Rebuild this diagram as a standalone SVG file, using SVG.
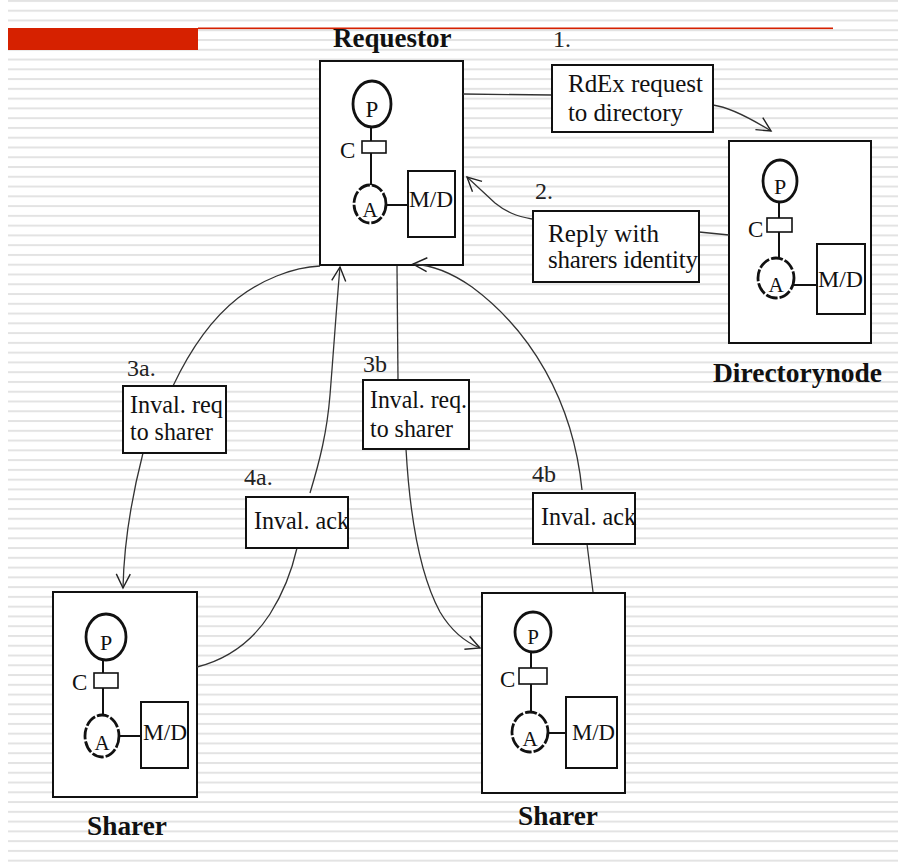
<svg xmlns="http://www.w3.org/2000/svg" width="898" height="862" viewBox="0 0 898 862">
<defs>
<pattern id="bg" x="0" y="9.7" width="898" height="9.77" patternUnits="userSpaceOnUse">
<rect x="0" y="0" width="898" height="2" fill="#e3e3e3"/>
</pattern>
<marker id="arr" markerUnits="userSpaceOnUse" markerWidth="20" markerHeight="20" viewBox="-16 -10 20 20" refX="0" refY="0" orient="auto">
<path d="M-14,-7 L0,0 L-14,7" fill="none" stroke="#222" stroke-width="1.4"/>
</marker>
<style>
.box{fill:#fff;stroke:#111;stroke-width:2}
.lbl{fill:#fff;stroke:#111;stroke-width:2}
.circ{fill:#fff;stroke:#111;stroke-width:2.8}
.acirc{fill:#fff;stroke:#111;stroke-width:2.8;stroke-dasharray:12 2}
.ln{stroke:#111;stroke-width:2;fill:none}
.cr{fill:#fff;stroke:#111;stroke-width:1.6}
.t{font-family:"Liberation Serif","Times New Roman",serif;fill:#111}
.title{font-family:"Liberation Serif","Times New Roman",serif;font-weight:bold;font-size:27px;fill:#111}
.lt{font-family:"Liberation Serif","Times New Roman",serif;font-size:25px;fill:#111}
.num{font-family:"Liberation Serif","Times New Roman",serif;font-size:24px;fill:#222}
.conn{fill:none;stroke:#333;stroke-width:1.3}
</style>
</defs>
<rect x="0" y="0" width="898" height="862" fill="#fff"/>
<rect x="8" y="0" width="890" height="862" fill="url(#bg)"/>
<rect x="8" y="28" width="190" height="22" fill="#d62100"/>
<rect x="198" y="27.5" width="635" height="1.6" fill="#d62100"/>

<g id="requestor">
<text class="title" x="333" y="47" font-family="Liberation Serif, serif">Requestor</text>
<rect class="box" x="320" y="61" width="143" height="204"/>
<line class="ln" x1="371" y1="126" x2="371" y2="141"/>
<line class="ln" x1="371" y1="153" x2="371" y2="186"/>
<line class="ln" x1="386" y1="205" x2="408" y2="205"/>
<ellipse class="circ" cx="372" cy="104" rx="19" ry="23"/>
<text class="t" x="372" y="117" font-size="23" text-anchor="middle">P</text>
<rect class="cr" x="362" y="141" width="24" height="12"/>
<text class="t" x="340" y="158" font-size="23">C</text>
<ellipse class="acirc" cx="370" cy="204" rx="16" ry="19"/>
<text class="t" x="370" y="217" font-size="21" text-anchor="middle">A</text>
<rect class="box" x="408" y="171" width="47" height="66"/>
<text class="t" x="409" y="207" font-size="23" textLength="44" lengthAdjust="spacingAndGlyphs">M/D</text>
</g>

<g id="directory">
<rect class="box" x="729" y="141" width="142" height="202"/>
<line class="ln" x1="779" y1="201" x2="779" y2="218"/>
<line class="ln" x1="779" y1="232" x2="779" y2="259"/>
<line class="ln" x1="794" y1="285" x2="817" y2="285"/>
<ellipse class="circ" cx="780" cy="181" rx="17" ry="21"/>
<text class="t" x="780" y="194" font-size="22" text-anchor="middle">P</text>
<rect class="cr" x="767" y="218" width="25" height="14"/>
<text class="t" x="748" y="237" font-size="23">C</text>
<ellipse class="acirc" cx="776" cy="278" rx="18" ry="20"/>
<text class="t" x="776" y="292" font-size="21" text-anchor="middle">A</text>
<rect class="box" x="817" y="244" width="48" height="70"/>
<text class="t" x="818" y="287" font-size="23" textLength="45" lengthAdjust="spacingAndGlyphs">M/D</text>
<text class="title" x="713" y="382" textLength="169" lengthAdjust="spacingAndGlyphs">Directorynode</text>
</g>

<g id="sharer1">
<rect class="box" x="53" y="592" width="144" height="205"/>
<line class="ln" x1="103" y1="659" x2="103" y2="673"/>
<line class="ln" x1="103" y1="688" x2="103" y2="716"/>
<line class="ln" x1="118" y1="736" x2="141" y2="736"/>
<ellipse class="circ" cx="106" cy="637" rx="20" ry="23"/>
<text class="t" x="106" y="650" font-size="22" text-anchor="middle">P</text>
<rect class="cr" x="94" y="673" width="24" height="15"/>
<text class="t" x="72" y="690" font-size="23">C</text>
<ellipse class="acirc" cx="102" cy="736" rx="17" ry="21"/>
<text class="t" x="102" y="750" font-size="21" text-anchor="middle">A</text>
<rect class="box" x="141" y="702" width="47" height="66"/>
<text class="t" x="143" y="740" font-size="23" textLength="44" lengthAdjust="spacingAndGlyphs">M/D</text>
<text class="title" x="87" y="835" textLength="80" lengthAdjust="spacingAndGlyphs">Sharer</text>
</g>

<g id="sharer2">
<rect class="box" x="482" y="593" width="143" height="200"/>
<line class="ln" x1="531" y1="652" x2="531" y2="668"/>
<line class="ln" x1="531" y1="684" x2="531" y2="713"/>
<line class="ln" x1="547" y1="733" x2="566" y2="733"/>
<ellipse class="circ" cx="533" cy="632" rx="18" ry="20"/>
<text class="t" x="533" y="644" font-size="21" text-anchor="middle">P</text>
<rect class="cr" x="519" y="668" width="28" height="16"/>
<text class="t" x="500" y="687" font-size="23">C</text>
<ellipse class="acirc" cx="530" cy="732" rx="18" ry="20"/>
<text class="t" x="530" y="746" font-size="21" text-anchor="middle">A</text>
<rect class="box" x="566" y="697" width="51" height="71"/>
<text class="t" x="572" y="740" font-size="23" textLength="43" lengthAdjust="spacingAndGlyphs">M/D</text>
<text class="title" x="518" y="825" textLength="80" lengthAdjust="spacingAndGlyphs">Sharer</text>
</g>

<g id="connectors">
<path class="conn" d="M463,94 L552,95"/>
<path class="conn" d="M713,105 C728,107 750,118 771,131" marker-end="url(#arr)"/>
<path class="conn" d="M699,232 L729,235"/>
<path class="conn" d="M532,219 C516,216 506,212 495,203 L467,177" marker-end="url(#arr)"/>
<path class="conn" d="M320,266 C292,267 260,281 238,298 C210,320 190,350 173,386"/>
<path class="conn" d="M143,453 C133,492 124,540 123,588" marker-end="url(#arr)"/>
<path class="conn" d="M197,667 C228,659 252,642 270,614 C284,592 292,570 297,548"/>
<path class="conn" d="M310,493 C320,460 327,432 330,395 C334,345 337,300 340,267" marker-end="url(#arr)"/>
<path class="conn" d="M397,266 L398,380"/>
<path class="conn" d="M406,449 C410,520 420,575 440,612 C452,632 465,642 480,648" marker-end="url(#arr)"/>
<path class="conn" d="M593,592 L587,544"/>
<path class="conn" d="M582,490 C573,400 530,330 472,287 C452,273 432,265 413,264" marker-end="url(#arr)"/>
</g>

<g id="label-1">
<text class="num" x="553" y="47">1.</text>
<rect class="lbl" x="552" y="65" width="161" height="67"/>
<text class="lt" x="568" y="92" textLength="135" lengthAdjust="spacing">RdEx request</text>
<text class="lt" x="568" y="121" textLength="115" lengthAdjust="spacing">to directory</text>
</g>
<g id="label-2">
<text class="num" x="535" y="199">2.</text>
<rect class="lbl" x="533" y="211" width="166" height="71"/>
<text class="lt" x="548" y="242" textLength="111" lengthAdjust="spacing">Reply with</text>
<text class="lt" x="548" y="268" textLength="150" lengthAdjust="spacing">sharers identity</text>
</g>
<g id="label-3a">
<text class="num" x="127" y="376">3a.</text>
<rect class="lbl" x="123" y="386" width="103" height="67"/>
<text class="lt" x="130" y="413" textLength="93" lengthAdjust="spacingAndGlyphs">Inval. req</text>
<text class="lt" x="130" y="440" textLength="83" lengthAdjust="spacingAndGlyphs">to sharer</text>
</g>
<g id="label-3b">
<text class="num" x="363" y="372">3b</text>
<rect class="lbl" x="363" y="380" width="106" height="69"/>
<text class="lt" x="370" y="408" textLength="97" lengthAdjust="spacingAndGlyphs">Inval. req.</text>
<text class="lt" x="370" y="437" textLength="83" lengthAdjust="spacingAndGlyphs">to sharer</text>
</g>
<g id="label-4a">
<text class="num" x="244" y="485">4a.</text>
<rect class="lbl" x="246" y="497" width="102" height="51"/>
<text class="lt" x="254" y="529" textLength="95" lengthAdjust="spacingAndGlyphs">Inval. ack</text>
</g>
<g id="label-4b">
<text class="num" x="532" y="482">4b</text>
<rect class="lbl" x="533" y="493" width="102" height="51"/>
<text class="lt" x="541" y="525" textLength="95" lengthAdjust="spacingAndGlyphs">Inval. ack</text>
</g>
</svg>
